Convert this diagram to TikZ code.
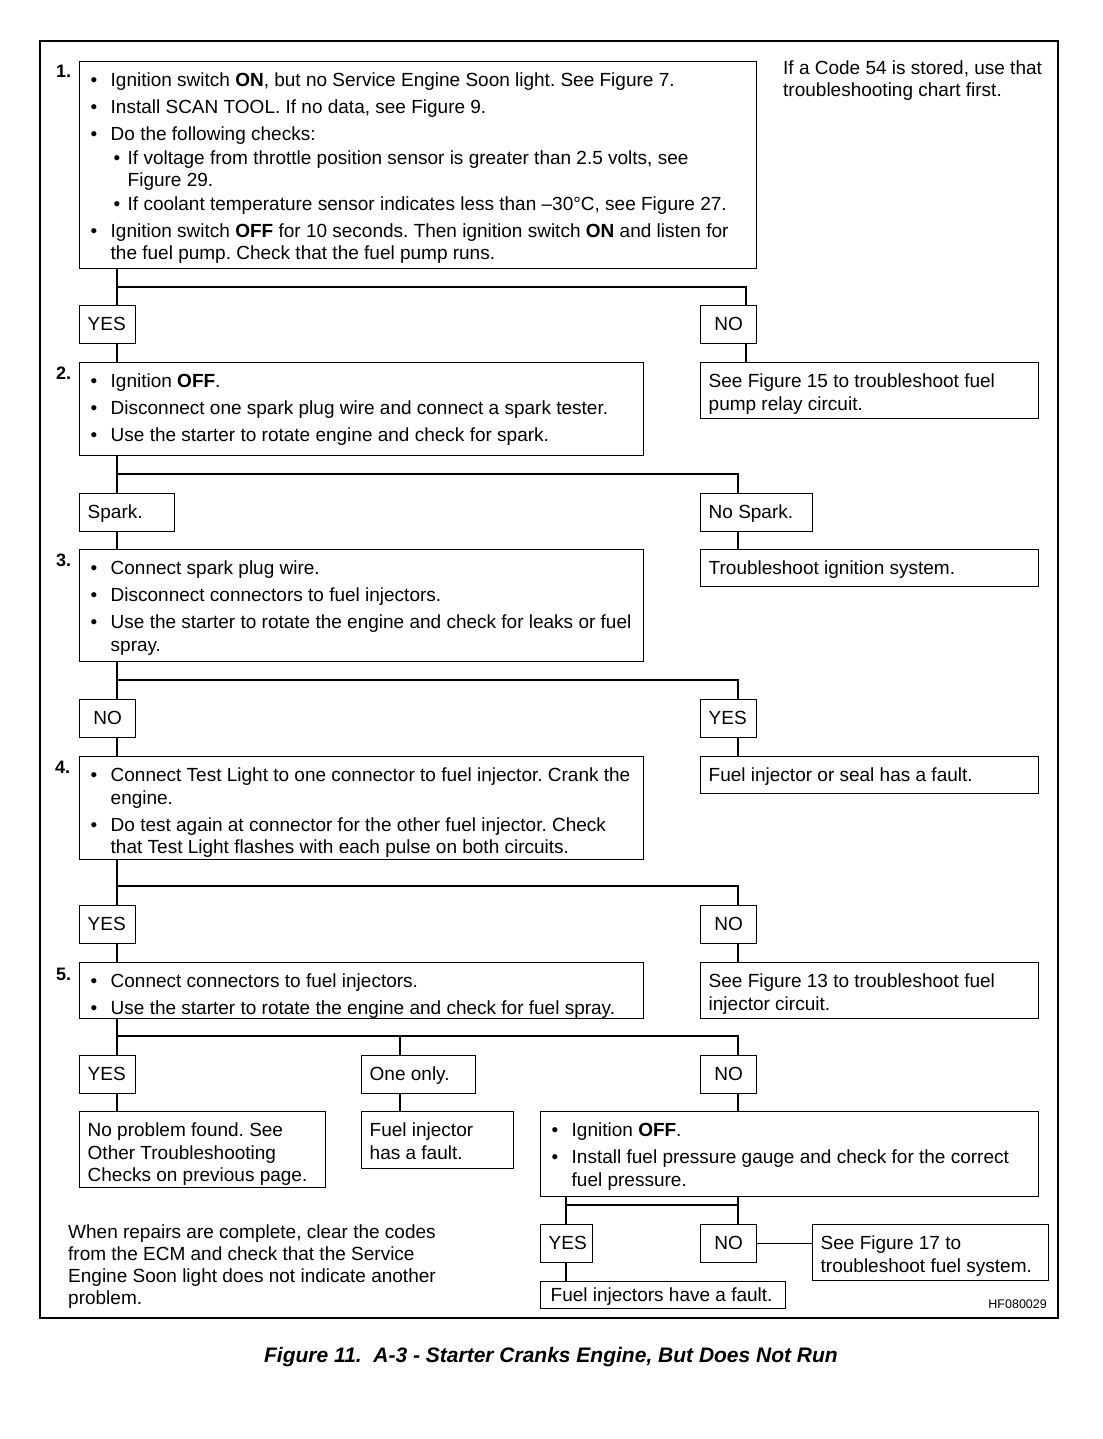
\documentclass[tikz,border=0pt]{standalone}
\usepackage{fontspec}
\setmainfont{Liberation Sans}
\frenchspacing
\newcommand\bx[1]{\par\hangindent=23pt\hangafter=1\noindent\strut\hbox to 23pt{\hspace{3pt}\textbullet\hfil}#1}
\newcommand\bxs[1]{\par\vspace{4.5pt}\bx{#1}}
\newcommand\sbx[1]{\par\vspace{1pt}\hangindent=40pt\hangafter=1\noindent\strut\hbox to 40pt{\hspace{26pt}\textbullet\hfil}#1}
% framed list box: [top pad]{width}{height}{content}
\newcommand\boxlist[4][9.25pt]{\parbox[c][#3][t]{#2}{\raggedright\leftskip=8pt\relax\frenchspacing\fontsize{19}{22.5}\selectfont\vspace*{#1}#4\par}}
% framed plain text box
\newcommand\boxtxt[4][9.25pt]{\parbox[c][#3][t]{#2}{\raggedright\leftskip=8pt\relax\frenchspacing\fontsize{19}{22.5}\selectfont\vspace*{#1}\noindent\strut #4\par}}
\begin{document}
\begin{tikzpicture}[x=1pt,y=-1pt,
  frame/.style={draw, line width=1.4pt, inner sep=0pt, anchor=north west},
  conn/.style={line width=1.4pt},
  stepnum/.style={anchor=base west, inner sep=0pt, font=\fontsize{18}{20}\selectfont\bfseries},
  note/.style={anchor=base west, inner sep=0pt}]
\useasboundingbox (0,0) rectangle (1102,1439);
\fill[white] (0,0) rectangle (1102,1439);
% outer frame
\draw[line width=2.6pt] (40,41) rectangle (1058,1318);

% step numbers
\node[stepnum] (s1) at (56,78) {1.};
\node[stepnum] (s2) at (56,379) {2.};
\node[stepnum] (s3) at (56,566) {3.};
\node[stepnum] (s4) at (55,773) {4.};
\node[stepnum] (s5) at (56,980) {5.};

% step 1
\node[frame] (b1) at (79,61) {\boxlist{677pt}{207pt}{%
\bx{Ignition switch \textbf{ON}, but no Service Engine Soon light. See Figure 7.}
\bxs{Install SCAN TOOL. If no data, see Figure 9.}
\bxs{Do the following checks:}
\sbx{If voltage from throttle position sensor is greater than 2.5 volts, see\newline Figure 29.}
\sbx{If coolant temperature sensor indicates less than –30°C, see Figure 27.}
\bxs{Ignition switch \textbf{OFF} for 10 seconds. Then ignition switch \textbf{ON} and listen for\newline the fuel pump. Check that the fuel pump runs.}}};
\node[note] (code) at (783,74.5) {\parbox[t]{270pt}{\raggedright\fontsize{19}{22}\selectfont If a Code 54 is stored, use that\newline troubleshooting chart first.}};

\node[frame] (yes1) at (79,305) {\boxtxt{56pt}{38pt}{YES}};
\node[frame] (no1) at (700,305) {\boxtxt{56pt}{38pt}{\centering NO}};

% step 2
\node[frame] (b2) at (79,362) {\boxlist{564pt}{93pt}{%
\bx{Ignition \textbf{OFF}.}
\bxs{Disconnect one spark plug wire and connect a spark tester.}
\bxs{Use the starter to rotate engine and check for spark.}}};
\node[frame] (r1) at (700,362) {\boxtxt{338pt}{56pt}{See Figure 15 to troubleshoot fuel\newline pump relay circuit.}};

\node[frame] (spark) at (79,493) {\boxtxt{95pt}{38pt}{Spark.}};
\node[frame] (nospark) at (700,493) {\boxtxt{112pt}{38pt}{No Spark.}};

% step 3
\node[frame] (b3) at (79,549) {\boxlist{564pt}{112pt}{%
\bx{Connect spark plug wire.}
\bxs{Disconnect connectors to fuel injectors.}
\bxs{Use the starter to rotate the engine and check for leaks or fuel\newline spray.}}};
\node[frame] (r2) at (700,549) {\boxtxt{338pt}{37pt}{Troubleshoot ignition system.}};

\node[frame] (no3) at (79,699) {\boxtxt{56pt}{38pt}{\centering NO}};
\node[frame] (yes3) at (700,699) {\boxtxt{56pt}{38pt}{YES}};

% step 4
\node[frame] (b4) at (79,756) {\boxlist{564pt}{103pt}{%
\bx{Connect Test Light to one connector to fuel injector. Crank the\newline engine.}
\bxs{Do test again at connector for the other fuel injector. Check\newline that Test Light flashes with each pulse on both circuits.}}};
\node[frame] (r3) at (700,756) {\boxtxt{338pt}{37pt}{Fuel injector or seal has a fault.}};

\node[frame] (yes4) at (79,905) {\boxtxt{56pt}{38pt}{YES}};
\node[frame] (no4) at (700,905) {\boxtxt{56pt}{38pt}{\centering NO}};

% step 5
\node[frame] (b5) at (79,962) {\boxlist{564pt}{56pt}{%
\bx{Connect connectors to fuel injectors.}
\bxs{Use the starter to rotate the engine and check for fuel spray.}}};
\node[frame] (r4) at (700,962) {\boxtxt{338pt}{56pt}{See Figure 13 to troubleshoot fuel\newline injector circuit.}};

\node[frame] (yes5) at (79,1055) {\boxtxt{56pt}{38pt}{YES}};
\node[frame] (one5) at (361,1055) {\boxtxt{114pt}{38pt}{One only.}};
\node[frame] (no5) at (700,1055) {\boxtxt{56pt}{38pt}{\centering NO}};

\node[frame] (nop) at (79,1111) {\boxtxt{246pt}{76pt}{No problem found. See\newline Other Troubleshooting\newline Checks on previous page.}};
\node[frame] (finj) at (361,1111) {\boxtxt{152pt}{57pt}{Fuel injector\newline has a fault.}};
\node[frame] (b6) at (540,1111) {\boxlist{498pt}{85pt}{%
\bx{Ignition \textbf{OFF}.}
\bxs{Install fuel pressure gauge and check for the correct\newline fuel pressure.}}};

\node[frame] (yes6) at (540,1224) {\boxtxt{52pt}{38pt}{YES}};
\node[frame] (no6) at (700,1224) {\boxtxt{56pt}{38pt}{\centering NO}};
\node[frame] (r6) at (812,1224) {\boxtxt{236pt}{56pt}{See Figure 17 to\newline troubleshoot fuel system.}};
\node[frame] (fi6) at (540,1281) {\boxtxt[3.75pt]{245pt}{27pt}{\hspace{2pt}Fuel injectors have a fault.}};

\node[note] (repair) at (68,1238.5) {\parbox[t]{400pt}{\raggedright\fontsize{19}{22}\selectfont When repairs are complete, clear the codes\newline from the ECM and check that the Service\newline Engine Soon light does not indicate another\newline problem.}};
\node[anchor=base east, inner sep=0pt, font=\fontsize{12.5}{14}\selectfont] (hf) at (1047,1308) {HF080029};

\node[anchor=base, inner sep=0pt, font=\fontsize{21}{24}\selectfont\bfseries\itshape] (cap) at (551,1362) {Figure 11.\ \ A-3 - Starter Cranks Engine, But Does Not Run};

% connectors
\coordinate (xl) at (117,0);
\coordinate (xa) at (746,0);
\coordinate (xr) at (738,0);
\coordinate (xm) at (400,0);
\coordinate (xy) at (566,0);
\coordinate (h1) at (117,287);
\coordinate (h2) at (117,474);
\coordinate (h3) at (117,680);
\coordinate (h4) at (117,886);
\coordinate (h5) at (117,1036);
\coordinate (h6) at (566,1205);

\draw[conn] (b1.south -| xl) -- (yes1.north -| xl);
\draw[conn] (h1) -| (no1.north -| xa);
\draw[conn] (yes1.south -| xl) -- (b2.north -| xl);
\draw[conn] (no1.south -| xa) -- (r1.north -| xa);

\draw[conn] (b2.south -| xl) -- (spark.north -| xl);
\draw[conn] (h2) -| (nospark.north -| xr);
\draw[conn] (spark.south -| xl) -- (b3.north -| xl);
\draw[conn] (nospark.south -| xr) -- (r2.north -| xr);

\draw[conn] (b3.south -| xl) -- (no3.north -| xl);
\draw[conn] (h3) -| (yes3.north -| xr);
\draw[conn] (no3.south -| xl) -- (b4.north -| xl);
\draw[conn] (yes3.south -| xr) -- (r3.north -| xr);

\draw[conn] (b4.south -| xl) -- (yes4.north -| xl);
\draw[conn] (h4) -| (no4.north -| xr);
\draw[conn] (yes4.south -| xl) -- (b5.north -| xl);
\draw[conn] (no4.south -| xr) -- (r4.north -| xr);

\draw[conn] (b5.south -| xl) -- (yes5.north -| xl);
\draw[conn] (h5) -| (no5.north -| xr);
\draw[conn] (h5 -| xm) -- (one5.north -| xm);
\draw[conn] (yes5.south -| xl) -- (nop.north -| xl);
\draw[conn] (one5.south -| xm) -- (finj.north -| xm);
\draw[conn] (no5.south -| xr) -- (b6.north -| xr);

\draw[conn] (b6.south -| xy) -- (yes6.north -| xy);
\draw[conn] (b6.south -| xr) -- (no6.north -| xr);
\draw[conn] (h6) -- (h6 -| xr);
\draw[conn] (yes6.south -| xy) -- (fi6.north -| xy);
\draw[conn] (no6.east) -- (r6.west |- no6.east);
\end{tikzpicture}
\end{document}
